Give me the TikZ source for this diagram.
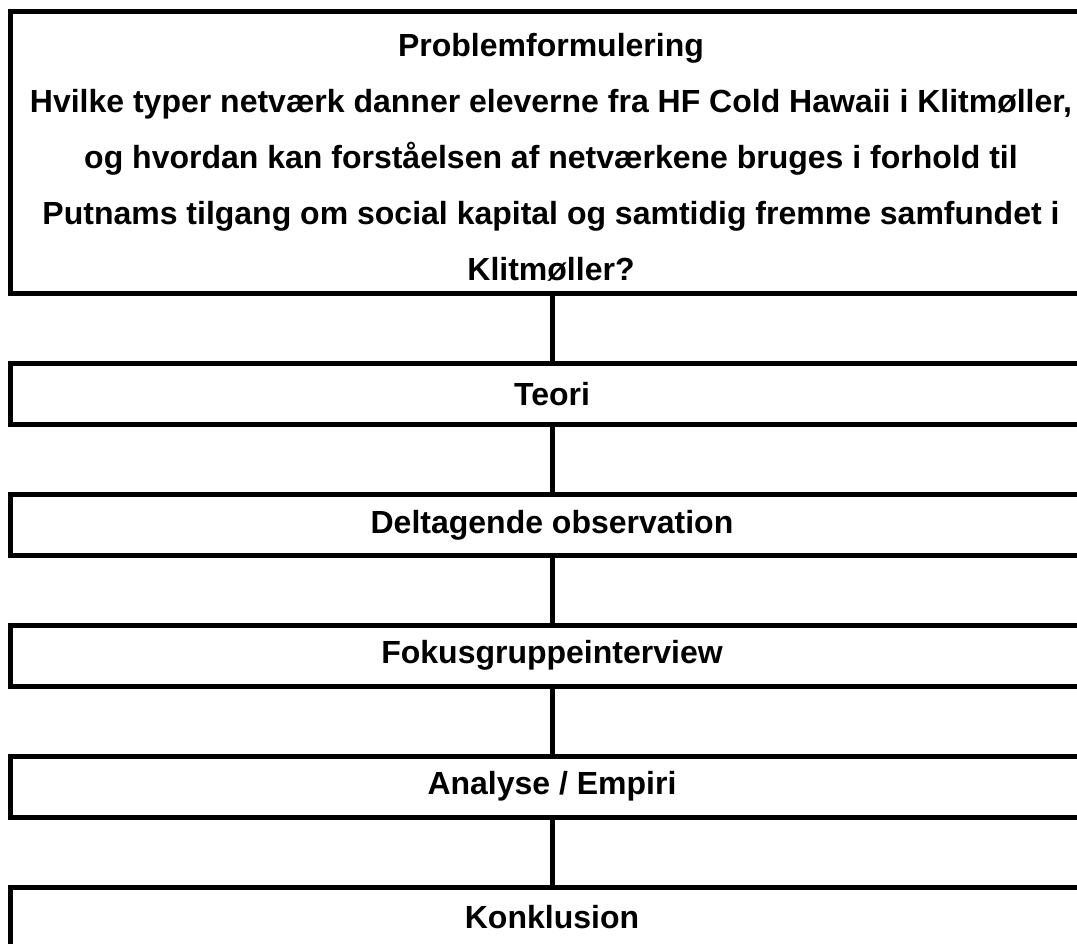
\documentclass[tikz,border=0pt]{standalone}
\usepackage{fontspec}
\setmainfont{Liberation Sans}
\begin{document}
\begin{tikzpicture}[x=1pt,y=-1pt,
  stage/.style={draw=black, line width=5pt, rectangle, minimum width=1083pt, minimum height=61pt, inner sep=0pt, font=\fontsize{32pt}{56pt}\selectfont\bfseries, align=center},
  label/.style={inner sep=0pt, font=\fontsize{32pt}{56pt}\selectfont\bfseries, align=center},
  link/.style={draw=black, line width=5pt}]
\useasboundingbox (0,0) rectangle (1077,944);
\clip (0,0) rectangle (1077,944);
\node[stage, minimum height=282pt] (pf) at (552,152.5) {};
\node[label] (pftext) at (551,157) {Problemformulering\\
Hvilke typer netværk danner eleverne fra HF Cold Hawaii i Klitmøller,\\
og hvordan kan forståelsen af netværkene bruges i forhold til\\
Putnams tilgang om social kapital og samtidig fremme samfundet i\\
Klitmøller?};
\node[stage] (teori) at (552,394) {Teori};
\node[stage] (delt) at (552,525) {Deltagende observation};
\node[stage] (fokus) at (552,655.5) {Fokusgruppeinterview};
\node[stage] (anal) at (552,786.5) {Analyse / Empiri};
\node[stage] (konk) at (552,917.5) {Konklusion};
\draw[link] (pf.south) -- (teori.north);
\draw[link] (teori.south) -- (delt.north);
\draw[link] (delt.south) -- (fokus.north);
\draw[link] (fokus.south) -- (anal.north);
\draw[link] (anal.south) -- (konk.north);
\end{tikzpicture}
\end{document}
